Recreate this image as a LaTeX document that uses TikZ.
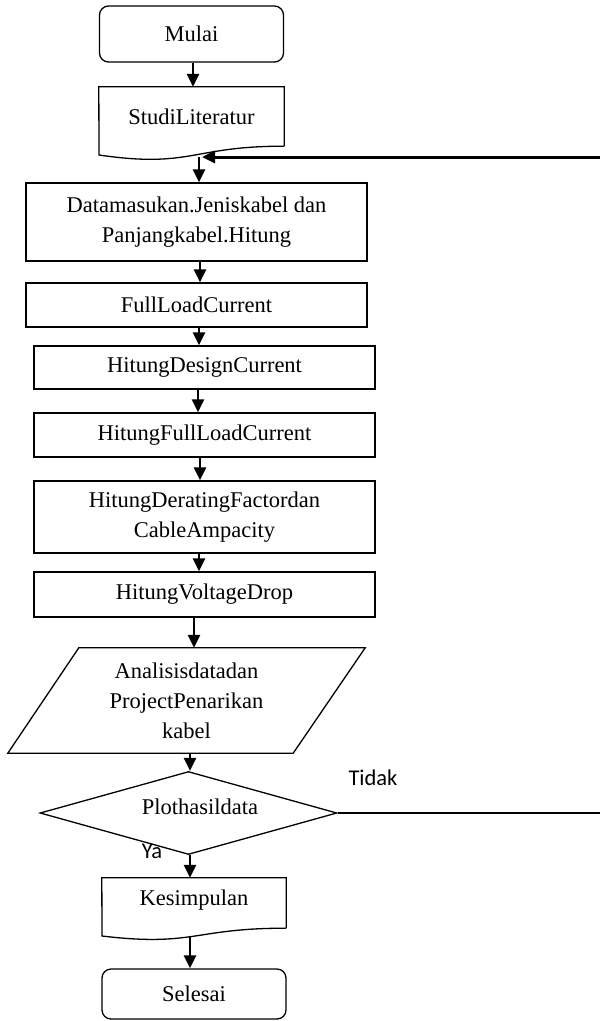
\documentclass[tikz,border=0pt]{standalone}
\usepackage{fontspec}
\setmainfont{Liberation Serif}
\newfontfamily\calfont{Carlito}
\usetikzlibrary{arrows.meta,shapes.geometric}
\begin{document}
\begin{tikzpicture}[x=1pt,y=-1pt,
  txtfont/.style={font=\fontsize{22.5}{30}\selectfont},
  box/.style={draw,line width=1.3pt,inner sep=0pt,align=center,txtfont},
  term/.style={box,rounded corners=9pt},
  ghost/.style={inner sep=0pt,align=center,txtfont},
  outline/.style={line width=1.3pt,line join=miter},
  arr/.style={line width=2.8pt,-{Triangle[length=13pt,width=12pt]}},
  fbline/.style={line width=3pt,-{Triangle[length=13pt,width=12pt]}},
  thinline/.style={line width=1.2pt},
  lbl/.style={font=\calfont\fontsize{22.5}{27}\selectfont,inner sep=0pt}]
\useasboundingbox (0,0) rectangle (600,1021);

% terminals and process boxes
\node[term,minimum width=184pt,minimum height=56pt] (mulai) at (191.5,34) {Mulai};
\node[ghost,minimum width=185pt,minimum height=59pt] (studi) at (191.5,116.5) {StudiLiteratur};
\draw[outline] (studi.south east) -- (studi.north east) -- (studi.north west) -- (99,155)
  .. controls (191.5,168.5) and (191.5,146) .. (studi.south east);

\node[box,minimum width=341pt,minimum height=78pt] (data) at (196.5,222)
  {Datamasukan.Jeniskabel dan\\Panjangkabel.Hitung};
\node[box,minimum width=341pt,minimum height=44pt] (full) at (196.5,305) {FullLoadCurrent};
\node[box,minimum width=341pt,minimum height=43pt] (design) at (204.5,367.5) {HitungDesignCurrent};
\node[box,minimum width=341pt,minimum height=44pt] (hfull) at (204.5,435) {HitungFullLoadCurrent};
\node[box,minimum width=341pt,minimum height=72pt] (derate) at (204.5,517)
  {HitungDeratingFactordan\\CableAmpacity};
\node[box,minimum width=341pt,minimum height=45pt] (volt) at (204.5,594.5) {HitungVoltageDrop};

\node[ghost,minimum width=357pt,minimum height=105pt] (ana) at (186.5,700.5)
  {Analisisdatadan\\ProjectPenarikan\\kabel};
\draw[outline] ([xshift=71pt]ana.north west) -- (ana.north east)
  -- ([xshift=-72pt]ana.south east) -- (ana.south west) -- cycle;

\node[draw,diamond,line width=1.3pt,minimum width=297pt,minimum height=83pt,
  inner sep=0pt,aspect=3.58] (dia) at (188.5,813) {};
\node[ghost] (diat) at (200,807) {Plothasildata};

\node[ghost,minimum width=184pt,minimum height=50pt,text height=16pt,text depth=12pt] (kes) at (194,903) {Kesimpulan};
\draw[outline] (kes.south east) -- (kes.north east) -- (kes.north west) -- (102,936)
  .. controls (194,947) and (194,928) .. (kes.south east);

\node[term,minimum width=184pt,minimum height=50pt] (sel) at (194,994) {Selesai};

% labels
\node[lbl] (ya) at (152,851) {Ya};
\node[lbl] (tidak) at (373,778) {Tidak};

% helper coordinates
\coordinate (fbR) at (600,157);
\coordinate (studiJ) at (199,157);
\coordinate (tidR) at (600,813);
\coordinate (kesJ) at (190,937);

% connectors
\draw[arr] ([xshift=1.5pt]mulai.south) -- ([xshift=1.5pt]mulai.south |- studi.north);
\draw[fbline] (fbR) -- ([xshift=3pt]studiJ);
\draw[arr] (studiJ) -- (studiJ |- data.north);
\draw[arr] ([xshift=3.5pt]data.south) -- ([xshift=3.5pt]data.south |- full.north);
\draw[arr] ([xshift=2.5pt]full.south) -- ([xshift=2.5pt]full.south |- design.north);
\draw[arr] ([xshift=-6.5pt]design.south) -- ([xshift=-6.5pt]design.south |- hfull.north);
\draw[arr] ([xshift=-4.5pt]hfull.south) -- ([xshift=-4.5pt]hfull.south |- derate.north);
\draw[arr] ([xshift=-5.5pt]derate.south) -- ([xshift=-5.5pt]derate.south |- volt.north);
\draw[arr] ([xshift=-10.5pt]volt.south) -- ([xshift=-10.5pt]volt.south |- ana.north);
\draw[arr] ([xshift=3.5pt]ana.south) -- ([xshift=3.5pt]ana.south |- dia.north);
\draw[arr] ([xshift=1.5pt]dia.south) -- ([xshift=1.5pt]dia.south |- kes.north);
\draw[arr] (kesJ) -- (kesJ |- sel.north);
\draw[thinline] (dia.east) -- (tidR);
\end{tikzpicture}
\end{document}
